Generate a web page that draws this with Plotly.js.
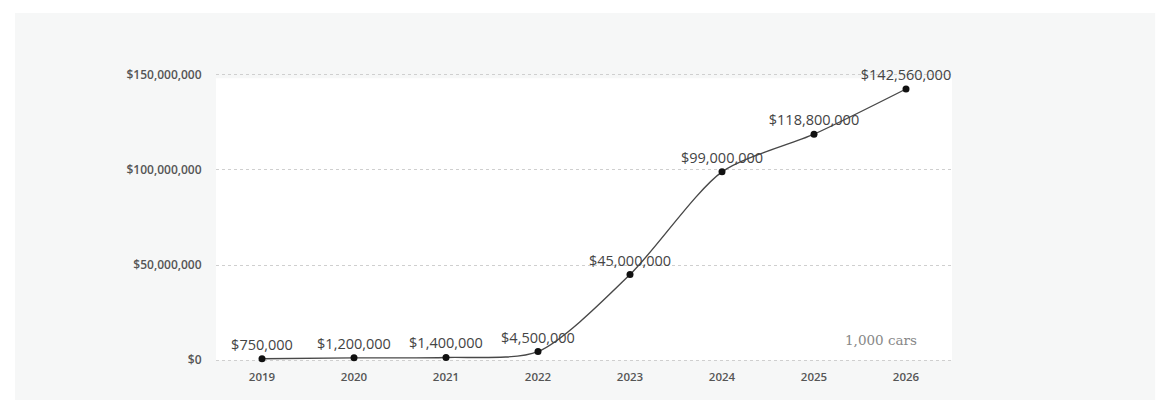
<!DOCTYPE html>
<html><head><meta charset="utf-8">
<script src="https://cdn.plot.ly/plotly-3.0.1.min.js"></script>
<style>html,body{margin:0;padding:0;background:#fff;}#chart{width:1170px;height:400px;}</style>
</head><body><div id="chart"></div>
<script>
const years = [2019, 2020, 2021, 2022, 2023, 2024, 2025, 2026];
const revenue = [750000, 1200000, 1400000, 4500000, 45000000, 99000000, 118800000, 142560000];
const labels = ['$750,000','$1,200,000','$1,400,000','$4,500,000','$45,000,000','$99,000,000','$118,800,000','$142,560,000'];
const yTicks = [0, 50000000, 100000000, 150000000];
const yTickText = ['$0','$50,000,000','$100,000,000','$150,000,000'];
const noteText = '1,000 cars';

const trace = {
  x: years, y: revenue, type: 'scatter', mode: 'lines+markers+text',
  line: {shape: 'spline', smoothing: 0.75, color: '#484848', width: 1.4},
  marker: {color: '#111', size: 7},
  text: labels, textposition: 'top center',
  textfont: {family: 'Open Sans, sans-serif', size: 14.5, color: '#444'},
  cliponaxis: false, hoverinfo: 'skip'
};

const layout = {
  width: 1170, height: 400,
  margin: {l: 216, r: 218, t: 72, b: 37},
  paper_bgcolor: '#ffffff', plot_bgcolor: 'rgba(0,0,0,0)',
  showlegend: false,
  xaxis: {range: [2018.5, 2026.5], tickvals: years, ticktext: years.map(String),
    showgrid: false, zeroline: false, showline: false,
    ticks: 'outside', ticklen: 3, tickcolor: 'rgba(0,0,0,0)',
    tickfont: {family: 'Open Sans, sans-serif', size: 11.5, color: '#555', weight: 600}, fixedrange: true},
  yaxis: {range: [-1500000, 151500000], tickvals: yTicks, ticktext: yTickText,
    showgrid: true, gridcolor: '#cfcfcf', griddash: 'dot', gridwidth: 1,
    zeroline: false, showline: false,
    ticks: 'outside', ticklen: 11, tickcolor: 'rgba(0,0,0,0)',
    tickfont: {family: 'Open Sans, sans-serif', size: 12, color: '#555', weight: 600}, fixedrange: true},
  shapes: [
    {type: 'rect', xref: 'paper', yref: 'paper', x0: -0.273, x1: 1.276, y0: -0.15, y1: 1.203,
     fillcolor: '#f6f7f7', line: {width: 0}, layer: 'below'},
    {type: 'rect', xref: 'paper', yref: 'y', x0: 0, x1: 1, y0: 0, y1: 148200000,
     fillcolor: '#ffffff', line: {width: 0}, layer: 'below'}
  ],
  annotations: [
    {xref: 'x', yref: 'y', x: 2026.14, y: 10500000, text: noteText, showarrow: false,
     xanchor: 'right', yanchor: 'middle',
     font: {family: 'DejaVu Serif, Liberation Serif, serif', size: 13.5, color: '#888'}}
  ]
};
Plotly.newPlot('chart', [trace], layout, {displayModeBar: false, staticPlot: true});
</script></body></html>
